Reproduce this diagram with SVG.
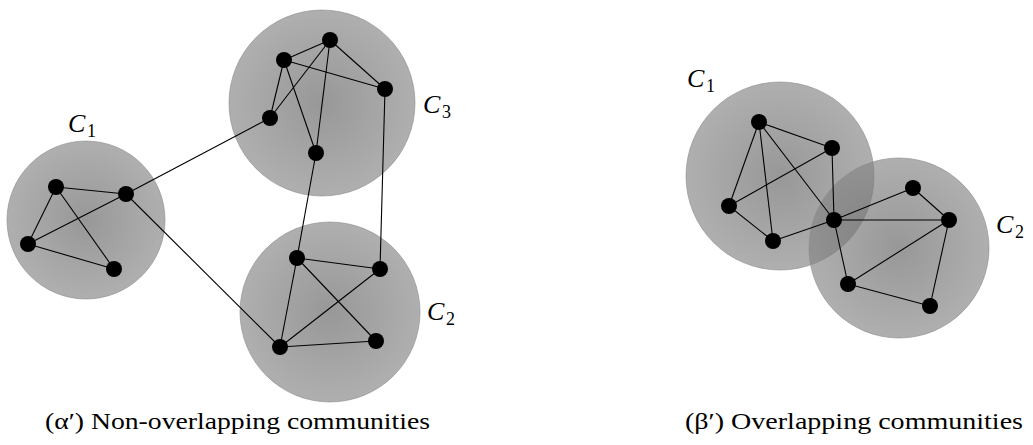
<svg xmlns="http://www.w3.org/2000/svg" width="1033" height="445" viewBox="0 0 1033 445">
<style>
.comm{fill:url(#g);stroke:#8a8a8a;stroke-width:0.6}
.e{stroke:#000;stroke-width:1.1;fill:none}
.n{fill:#000}
.lbl{font-family:'Liberation Serif','DejaVu Serif',serif;font-style:italic;font-size:26px;fill:#000}
.sub{font-family:'Liberation Serif','DejaVu Serif',serif;font-size:18px;fill:#000}
.cap{font-family:'Liberation Serif','DejaVu Serif',serif;font-size:24px;fill:#000}
</style>
<defs>
<radialGradient id="g" cx="0.5" cy="0.5" r="0.5">
<stop offset="0" stop-color="#606060" stop-opacity="0.65"/>
<stop offset="1" stop-color="#848484" stop-opacity="0.65"/>
</radialGradient>
</defs>
<rect width="1033" height="445" fill="#fff"/>
<g id="communities">
<circle id="a-C1-area" class="comm" cx="86" cy="220" r="79"/>
<circle id="a-C3-area" class="comm" cx="322" cy="103" r="93"/>
<circle id="a-C2-area" class="comm" cx="330" cy="312" r="90"/>
<circle id="b-C1-area" class="comm" cx="780" cy="176" r="94"/>
<circle id="b-C2-area" class="comm" cx="899" cy="248" r="90"/>
</g>
<g id="connectors">
<line class="e" x1="56" y1="187" x2="126" y2="194"/>
<line class="e" x1="56" y1="187" x2="28" y2="244"/>
<line class="e" x1="56" y1="187" x2="114" y2="269"/>
<line class="e" x1="28" y1="244" x2="126" y2="194"/>
<line class="e" x1="28" y1="244" x2="114" y2="269"/>
<line class="e" x1="126" y1="194" x2="270" y2="118"/>
<line class="e" x1="126" y1="194" x2="280" y2="347"/>
<line class="e" x1="284" y1="60" x2="330" y2="40"/>
<line class="e" x1="330" y1="40" x2="385" y2="89"/>
<line class="e" x1="284" y1="60" x2="385" y2="89"/>
<line class="e" x1="284" y1="60" x2="270" y2="118"/>
<line class="e" x1="330" y1="40" x2="270" y2="118"/>
<line class="e" x1="284" y1="60" x2="316" y2="153"/>
<line class="e" x1="330" y1="40" x2="316" y2="153"/>
<line class="e" x1="385" y1="89" x2="380" y2="269"/>
<line class="e" x1="316" y1="153" x2="297" y2="258"/>
<line class="e" x1="297" y1="258" x2="380" y2="269"/>
<line class="e" x1="297" y1="258" x2="280" y2="347"/>
<line class="e" x1="297" y1="258" x2="376" y2="341"/>
<line class="e" x1="380" y1="269" x2="280" y2="347"/>
<line class="e" x1="280" y1="347" x2="376" y2="341"/>
<line class="e" x1="759" y1="122" x2="832" y2="148"/>
<line class="e" x1="759" y1="122" x2="729" y2="206"/>
<line class="e" x1="759" y1="122" x2="773" y2="241"/>
<line class="e" x1="759" y1="122" x2="834" y2="220"/>
<line class="e" x1="832" y1="148" x2="729" y2="206"/>
<line class="e" x1="832" y1="148" x2="834" y2="220"/>
<line class="e" x1="729" y1="206" x2="773" y2="241"/>
<line class="e" x1="773" y1="241" x2="834" y2="220"/>
<line class="e" x1="834" y1="220" x2="913" y2="188"/>
<line class="e" x1="913" y1="188" x2="949" y2="220"/>
<line class="e" x1="834" y1="220" x2="949" y2="220"/>
<line class="e" x1="834" y1="220" x2="848" y2="284"/>
<line class="e" x1="949" y1="220" x2="848" y2="284"/>
<line class="e" x1="848" y1="284" x2="930" y2="306"/>
<line class="e" x1="949" y1="220" x2="930" y2="306"/>
</g>
<g id="a-C1">
<circle class="n" cx="56" cy="187" r="8"/>
<circle class="n" cx="126" cy="194" r="8"/>
<circle class="n" cx="28" cy="244" r="8"/>
<circle class="n" cx="114" cy="269" r="8"/>
<text class="lbl" x="68" y="132">C</text><text class="sub" x="87" y="137">1</text>
</g>
<g id="a-C3">
<circle class="n" cx="330" cy="40" r="8"/>
<circle class="n" cx="284" cy="60" r="8"/>
<circle class="n" cx="385" cy="89" r="8"/>
<circle class="n" cx="270" cy="118" r="8"/>
<circle class="n" cx="316" cy="153" r="8"/>
<text class="lbl" x="423" y="113">C</text><text class="sub" x="442" y="118">3</text>
</g>
<g id="a-C2">
<circle class="n" cx="297" cy="258" r="8"/>
<circle class="n" cx="380" cy="269" r="8"/>
<circle class="n" cx="280" cy="347" r="8"/>
<circle class="n" cx="376" cy="341" r="8"/>
<text class="lbl" x="427" y="320">C</text><text class="sub" x="446" y="325">2</text>
</g>
<g id="b-C1">
<circle class="n" cx="759" cy="122" r="8"/>
<circle class="n" cx="832" cy="148" r="8"/>
<circle class="n" cx="729" cy="206" r="8"/>
<circle class="n" cx="773" cy="241" r="8"/>
<text class="lbl" x="687" y="87">C</text><text class="sub" x="706" y="92">1</text>
</g>
<g id="b-C2">
<circle class="n" cx="834" cy="220" r="8"/>
<circle class="n" cx="913" cy="188" r="8"/>
<circle class="n" cx="949" cy="220" r="8"/>
<circle class="n" cx="848" cy="284" r="8"/>
<circle class="n" cx="930" cy="306" r="8"/>
<text class="lbl" x="996" y="233">C</text><text class="sub" x="1015" y="238">2</text>
</g>
<g id="captions">
<text class="cap" x="45" y="429" textLength="385" lengthAdjust="spacingAndGlyphs">(α′) Non-overlapping communities</text>
<text class="cap" x="685" y="429" textLength="338" lengthAdjust="spacingAndGlyphs">(β′) Overlapping communities</text>
</g>
</svg>
